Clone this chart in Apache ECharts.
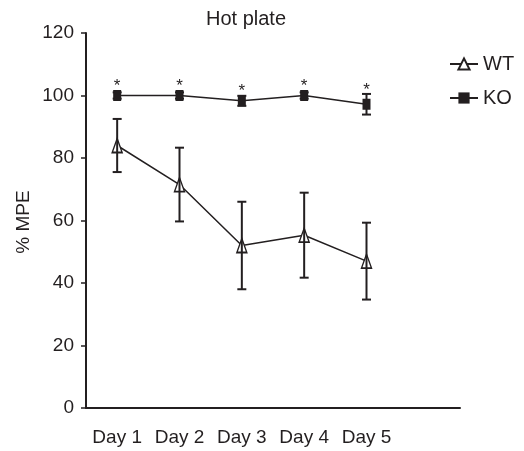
<!DOCTYPE html>
<html>
<head>
<meta charset="utf-8">
<script src="https://cdn.jsdelivr.net/npm/echarts@6/dist/echarts.min.js"></script>
<style>
html,body{margin:0;padding:0;background:#fff;}
#chart{width:524px;height:451px;}
</style>
</head>
<body>
<div id="chart"></div>
<script>
// ---- data ----
const days = ['Day 1', 'Day 2', 'Day 3', 'Day 4', 'Day 5'];
const wtMean = [84, 71.5, 52, 55.3, 47];
const wtErr = [8.5, 11.8, 14, 13.6, 12.3];
const koMean = [100, 100, 98.3, 100, 97.2];
const koErr = [1, 1, 1.6, 1, 3.3];
const koStars = ['*', '*', '*', '*', '*'];
const yTicks = [0, 20, 40, 60, 80, 100, 120];

const FONT = '"Liberation Sans", Arial, Helvetica, sans-serif';
const INK = '#231f20';

const xCats = days.concat(['']);

function errData(mean, err) {
  return mean.map((m, i) => [i, m - err[i], m + err[i], m]);
}

function errRender(capW, stars) {
  return function (params, api) {
    const i = api.value(0);
    const lo = api.coord([i, api.value(1)]);
    const hi = api.coord([i, api.value(2)]);
    const mid = api.coord([i, api.value(3)]);
    const st = { stroke: INK, lineWidth: 2 };
    const children = [
      { type: 'line', shape: { x1: lo[0], y1: lo[1], x2: hi[0], y2: hi[1] }, style: st },
      { type: 'line', shape: { x1: hi[0] - capW / 2, y1: hi[1], x2: hi[0] + capW / 2, y2: hi[1] }, style: st },
      { type: 'line', shape: { x1: lo[0] - capW / 2, y1: lo[1], x2: lo[0] + capW / 2, y2: lo[1] }, style: st }
    ];
    if (stars) {
      const topY = Math.min(hi[1], mid[1] - 5.5);
      children.push({
        type: 'text',
        style: {
          text: stars[params.dataIndex], x: hi[0], y: topY - 4,
          fill: INK, font: '17px ' + FONT, align: 'center', verticalAlign: 'middle'
        }
      });
    }
    return { type: 'group', children: children };
  };
}

const chart = echarts.init(document.getElementById('chart'), null, { renderer: 'canvas' });
chart.setOption({
  animation: false,
  backgroundColor: '#fff',
  title: {
    text: 'Hot plate', left: 241, top: 4, textAlign: 'center',
    textStyle: { fontFamily: FONT, fontSize: 20, fontWeight: 'normal', color: INK }
  },
  legend: {
    data: ['WT', 'KO'], orient: 'vertical', left: 444, top: 49,
    itemWidth: 28, itemHeight: 14, itemGap: 14,
    textStyle: { fontFamily: FONT, fontSize: 20, color: INK }
  },
  grid: { left: 86, right: 64, top: 33, bottom: 43, containLabel: false },
  xAxis: {
    type: 'category', data: xCats, boundaryGap: true,
    axisLine: { lineStyle: { color: INK, width: 2 } },
    axisTick: { alignWithLabel: true, length: 6, lineStyle: { color: INK, width: 2 },
      interval: function (i) { return i < days.length; } },
    axisLabel: { interval: 0, margin: 20, fontFamily: FONT, fontSize: 19, color: INK },
    splitLine: { show: false }
  },
  yAxis: {
    type: 'value', min: yTicks[0], max: yTicks[yTicks.length - 1], interval: 20,
    axisLine: { show: true, lineStyle: { color: INK, width: 2 } },
    axisTick: { show: true, length: 5, lineStyle: { color: INK, width: 1.5 } },
    axisLabel: { margin: 12, fontFamily: FONT, fontSize: 19, color: INK },
    splitLine: { show: false }
  },
  graphic: [{
    type: 'text', x: 24, y: 222, rotation: Math.PI / 2,
    style: { text: '% MPE', font: '19px ' + FONT, fill: INK, align: 'center', verticalAlign: 'middle' }
  }],
  series: [
    {
      name: 'WT', type: 'line', data: wtMean, z: 3,
      symbol: 'triangle', symbolSize: [10, 14],
      lineStyle: { color: INK, width: 1.5 },
      itemStyle: { color: '#fff', borderColor: INK, borderWidth: 1.5 }
    },
    {
      name: 'KO', type: 'line', data: koMean, z: 3,
      symbol: 'rect', symbolSize: [8, 11],
      lineStyle: { color: INK, width: 1.5 },
      itemStyle: { color: INK, borderColor: INK, borderWidth: 0 }
    },
    {
      type: 'custom', name: 'WT err', data: errData(wtMean, wtErr), z: 4,
      renderItem: errRender(9, null), encode: { x: 0, y: [1, 2] }
    },
    {
      type: 'custom', name: 'KO err', data: errData(koMean, koErr), z: 2,
      renderItem: errRender(9, koStars), encode: { x: 0, y: [1, 2] }
    }
  ]
});
</script>
</body>
</html>
